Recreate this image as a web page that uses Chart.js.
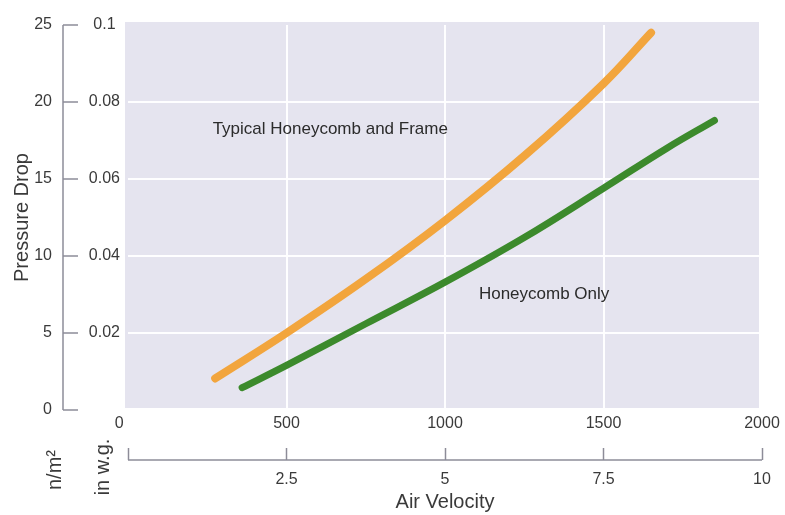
<!DOCTYPE html>
<html>
<head>
<meta charset="utf-8">
<script src="https://cdn.jsdelivr.net/npm/chart.js@4.4.1/dist/chart.umd.min.js"></script>
<style>
    html, body { margin: 0; padding: 0; background: #fff; }
    #wrap { width: 785px; height: 515px; }
</style>
</head>
<body>
<div id="wrap"><canvas id="dropChart" width="785" height="515"></canvas></div>
<script>
// Air velocity (fpm) vs pressure drop (n/m2)
const frameVelocity = [275, 500, 750, 1000, 1250, 1500, 1650];
const framePressure = [2.05, 5.0, 8.5, 12.3, 16.5, 21.2, 24.5];
const combVelocity = [360, 500, 750, 1000, 1250, 1500, 1700, 1850];
const combPressure = [1.45, 2.9, 5.6, 8.3, 11.2, 14.4, 17.0, 18.8];

// tick labels
const fpmValues = [0, 500, 1000, 1500, 2000];
const fpmLabels = ['0', '500', '1000', '1500', '2000'];
const msValues = [0, 2.5, 5, 7.5, 10];
const msLabels = ['', '2.5', '5', '7.5', '10'];
const nm2Values = [0, 5, 10, 15, 20, 25];
const nm2Labels = ['0', '5', '10', '15', '20', '25'];
const wgValues = [0, 0.02, 0.04, 0.06, 0.08, 0.1];
const wgLabels = ['', '0.02', '0.04', '0.06', '0.08', '0.1'];

const FONT = 'Liberation Sans, Arial, Helvetica, sans-serif';
const TEXT = '#3a3a3a';
const AXIS = '#8d8c98';
const GRID = 'rgba(255,255,255,0.95)';

function toPoints(xs, ys) {
    return xs.map((x, i) => ({ x: x, y: ys[i] }));
}

function fixTicks(values) {
    return scale => { scale.ticks = values.map(v => ({ value: v })); };
}

// no white line on the outer edges of the panel
function innerGrid(lo, hi) {
    return ctx => (ctx.tick && (ctx.tick.value === lo || ctx.tick.value === hi)) ? 'rgba(0,0,0,0)' : GRID;
}

// background, hand-drawn axis lines, curve labels
const paperPlugin = {
    id: 'paper',
    beforeDraw(chart) {
        const { ctx, chartArea: a } = chart;
        ctx.save();
        ctx.fillStyle = '#e5e4ef';
        ctx.fillRect(a.left - 3, a.top - 3, a.right - a.left, a.bottom - a.top + 1);
        ctx.restore();
    },
    afterDraw(chart) {
        const { ctx } = chart;
        const sy = chart.scales.y;
        const sx = chart.scales.x;
        const sx2 = chart.scales.x2;
        ctx.save();
        ctx.strokeStyle = AXIS;
        ctx.lineWidth = 1.5;
        // left axis line
        const lx = sy.right - 15;
        ctx.beginPath();
        ctx.moveTo(lx, sy.getPixelForValue(0));
        ctx.lineTo(lx, sy.getPixelForValue(25));
        ctx.stroke();
        // bottom m/s axis line
        const by = sx2.top + 12;
        ctx.beginPath();
        ctx.moveTo(sx2.getPixelForValue(0), by);
        ctx.lineTo(sx2.getPixelForValue(10), by);
        ctx.stroke();

        // curve labels
        ctx.fillStyle = '#2b2b2b';
        ctx.font = '17px ' + FONT;
        ctx.textAlign = 'left';
        ctx.textBaseline = 'middle';
        ctx.fillText('Typical Honeycomb and Frame', sx.getPixelForValue(267), sy.getPixelForValue(18.2));
        ctx.fillText('Honeycomb Only', sx.getPixelForValue(1107), sy.getPixelForValue(7.5));

        // unit labels
        ctx.fillStyle = TEXT;
        ctx.font = '20px ' + FONT;
        ctx.textAlign = 'center';
        ctx.save();
        ctx.translate(55, 470);
        ctx.rotate(-Math.PI / 2);
        ctx.fillText('n/m²', 0, 0);
        ctx.restore();
        ctx.save();
        ctx.translate(103, 467);
        ctx.rotate(-Math.PI / 2);
        ctx.fillText('in w.g.', 0, 0);
        ctx.restore();
        ctx.restore();
    }
};

const tickFont = { family: FONT, size: 16 };
const titleFont = { family: FONT, size: 20 };

new Chart(document.getElementById('dropChart'), {
    type: 'scatter',
    data: {
        datasets: [
            {
                label: 'Typical Honeycomb and Frame',
                data: toPoints(frameVelocity, framePressure),
                showLine: true,
                borderColor: '#f2a53d',
                borderWidth: 8,
                borderCapStyle: 'round',
                pointRadius: 0,
                tension: 0.4
            },
            {
                label: 'Honeycomb Only',
                data: toPoints(combVelocity, combPressure),
                showLine: true,
                borderColor: '#3c8a2c',
                borderWidth: 7,
                borderCapStyle: 'round',
                pointRadius: 0,
                tension: 0.4
            }
        ]
    },
    options: {
        responsive: false,
        animation: false,
        layout: { padding: { top: 25, right: 23, left: 0, bottom: 0 } },
        plugins: { legend: { display: false }, tooltip: { enabled: false } },
        scales: {
            x: {
                type: 'linear', position: 'bottom', weight: 0,
                min: 0, max: 2000,
                afterBuildTicks: fixTicks(fpmValues),
                afterFit: s => { s.height = 38; },
                grid: { color: innerGrid(0, 2000), lineWidth: 2, drawTicks: false },
                border: { display: false },
                ticks: {
                    padding: 4, color: TEXT, font: tickFont, maxRotation: 0, autoSkip: false,
                    // the printed "0" sits left of the corner
                    callback: (v, i) => i === 0 ? fpmLabels[i] + '\u00a0'.repeat(4) : fpmLabels[i]
                }
            },
            x2: {
                type: 'linear', position: 'bottom', weight: 1,
                min: 0, max: 10,
                afterBuildTicks: fixTicks(msValues),
                afterFit: s => { s.height = 67; },
                grid: { drawOnChartArea: false, drawTicks: true, tickLength: 12, tickColor: AXIS, tickWidth: 1.5 },
                border: { display: false },
                ticks: {
                    padding: 10, color: TEXT, font: tickFont, maxRotation: 0, autoSkip: false,
                    callback: (v, i) => msLabels[i]
                },
                title: { display: true, text: 'Air Velocity', color: TEXT, font: titleFont, padding: { top: 0, bottom: 1 } }
            },
            y: {
                type: 'linear', position: 'left', weight: 1,
                min: 0, max: 25,
                afterBuildTicks: fixTicks(nm2Values),
                afterFit: s => { s.width = 78; },
                grid: { color: innerGrid(0, 25), lineWidth: 2, drawTicks: true, tickLength: 15, tickColor: AXIS, tickWidth: 1.5 },
                border: { display: false },
                ticks: { padding: 11, color: TEXT, font: tickFont, callback: (v, i) => nm2Labels[i] },
                title: { display: true, text: 'Pressure Drop', color: TEXT, font: titleFont, padding: { top: 10, bottom: 0 } }
            },
            y2: {
                type: 'linear', position: 'left', weight: 0,
                min: 0, max: 0.1,
                afterBuildTicks: fixTicks(wgValues),
                afterFit: s => { s.width = 50; },
                grid: { display: false, drawTicks: false },
                border: { display: false },
                ticks: { padding: 8, crossAlign: 'center', color: TEXT, font: tickFont, callback: (v, i) => wgLabels[i] }
            }
        }
    },
    plugins: [paperPlugin]
});
</script>
</body>
</html>
